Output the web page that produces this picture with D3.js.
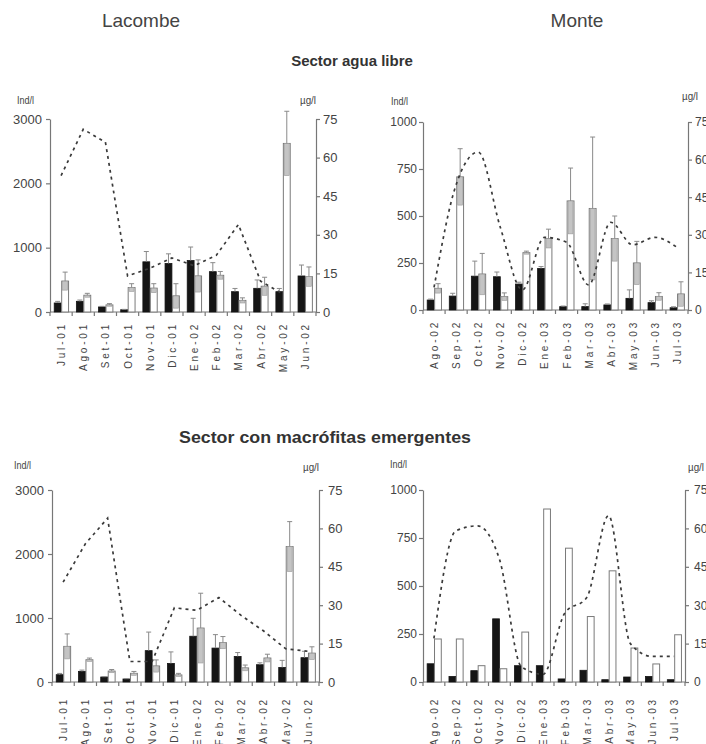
<!DOCTYPE html>
<html><head><meta charset="utf-8">
<script src="https://cdn.jsdelivr.net/npm/d3@7"></script>
<style>
body{margin:0;background:#fff;}
text{font-family:"Liberation Sans",Arial,sans-serif;}
</style></head><body>
<svg id="c" width="706" height="744"></svg>
<script>
// ---------- DATA ----------
const mesesLacombe = ["Jul-01","Ago-01","Set-01","Oct-01","Nov-01","Dic-01","Ene-02","Feb-02","Mar-02","Abr-02","May-02","Jun-02"];
const mesesMonte = ["Ago-02","Sep-02","Oct-02","Nov-02","Dic-02","Ene-03","Feb-03","Mar-03","Abr-03","May-03","Jun-03","Jul-03"];
const ticksLacombe = [0,1000,2000,3000];
const ticksMonte = [0,250,500,750,1000];
const ticksClorofila = [0,15,30,45,60,75];

// Lacombe - sector agua libre
const lacLibreNegro     = [140,166,78,36,780,754,800,627,316,368,316,560];
const lacLibreNegroErr  = [25,20,10,5,160,150,210,140,50,130,50,170];
const lacLibreBlanco    = [480,260,110,380,370,250,560,570,180,400,2620,550];
const lacLibreBlancoErr = [140,30,20,60,70,190,250,60,40,140,500,150];
const lacLibreClor      = [53,71,66,14,17,21,18,22,34,12,7,null];

// Monte - sector agua libre
const monLibreNegro     = [53,74,180,177,138,221,18,18,27,62,39,12];
const monLibreNegroErr  = [5,15,80,25,10,10,3,15,5,45,10,5];
const monLibreBlanco    = [115,708,191,71,305,380,580,540,380,250,72,85];
const monLibreBlancoErr = [25,150,110,20,8,50,175,380,120,115,20,65];
const monLibreClor      = [9,50,63,33,8,29,27,10,35,26,29,25];

// Lacombe - sector con macrófitas emergentes
const lacMacroNegro     = [114,166,78,47,490,290,715,530,400,270,228,380];
const lacMacroNegroErr  = [20,20,5,5,290,180,280,210,60,30,110,100];
const lacMacroBlanco    = [556,348,170,135,250,110,842,615,220,374,2116,450];
const lacMacroBlancoErr = [195,26,25,30,95,25,545,95,45,60,390,100];
const lacMacroClor      = [39,54,64,8,8,29,28,33,26,20,13,12];

// Monte - sector con macrófitas emergentes
const monMacroNegro     = [95,29,59,329,85,85,16,61,12,26,29,12];
const monMacroBlanco    = [224,224,85,69,260,901,697,341,579,177,94,246];
const monMacroClor      = [17,59,61,48,6,3,27,33,65,15,10,10];

// ---------- DRAWING ----------
const svg = d3.select("#c");
const TXT = "#444", AX = "#777";

function drawPanel(cfg, cats, negro, negroErr, blanco, blancoErr, clor, curve) {
  const g = svg.append("g");
  const x = d3.scaleBand().domain(cats).range([cfg.x0, cfg.x1]);
  const y = d3.scaleLinear().domain([0, cfg.max]).range([cfg.yB, cfg.yT]);
  const y2 = d3.scaleLinear().domain([0, 75]).range([cfg.yB, cfg.yT]);
  const bw = x.bandwidth() * 0.31;

  const ax1 = g.append("g").attr("transform", `translate(${cfg.x0},0)`)
    .call(d3.axisLeft(y).tickValues(cfg.ticks).tickSize(4).tickSizeOuter(0).tickPadding(cfg.padL).tickFormat(d3.format("d")));
  const ax2 = g.append("g").attr("transform", `translate(${cfg.x1},0)`)
    .call(d3.axisRight(y2).tickValues(ticksClorofila).tickSize(4).tickSizeOuter(0).tickPadding(cfg.padR));
  [ax1, ax2].forEach(a => {
    a.selectAll("path,line").attr("stroke", AX).attr("stroke-width", 1.2);
    a.selectAll("text").attr("fill", TXT).attr("font-size", cfg.fs).attr("font-family", "Liberation Sans, Arial, sans-serif");
  });
  g.append("line").attr("x1", cfg.x0).attr("x2", cfg.x1).attr("y1", cfg.yB).attr("y2", cfg.yB)
    .attr("stroke", AX).attr("stroke-width", 1.2);
  const bounds = cats.map(c => x(c)).concat([cfg.x1]);
  g.selectAll(".xt").data(bounds).join("line")
    .attr("x1", d => d).attr("x2", d => d).attr("y1", cfg.yB).attr("y2", cfg.yB + 4)
    .attr("stroke", AX).attr("stroke-width", 1.2);
  g.selectAll(".xl").data(cats).join("text")
    .attr("transform", c => `translate(${x(c) + x.bandwidth() / 2 + 4},${cfg.labTop}) rotate(-90)`)
    .attr("text-anchor", "end").attr("font-size", 10).attr("letter-spacing", 2.8)
    .attr("fill", TXT).text(c => c);

  g.append("text").attr("x", cfg.uL[0]).attr("y", cfg.uL[1]).attr("font-size", 11)
    .attr("fill", TXT).attr("textLength", 17).attr("lengthAdjust", "spacingAndGlyphs").text("Ind/l");
  g.append("text").attr("x", cfg.uR[0]).attr("y", cfg.uR[1]).attr("font-size", 11)
    .attr("fill", TXT).attr("textLength", 16).attr("lengthAdjust", "spacingAndGlyphs").text("µg/l");

  const cx = c => x(c) + x.bandwidth() / 2;
  g.selectAll(".bn").data(cats).join("rect")
    .attr("x", c => cx(c) - bw).attr("width", bw)
    .attr("y", (c, i) => y(negro[i])).attr("height", (c, i) => cfg.yB - y(negro[i]))
    .attr("fill", "#151515").attr("stroke", "#151515").attr("stroke-width", 0.8);
  g.selectAll(".bb").data(cats).join("rect")
    .attr("x", c => cx(c) + 0.6).attr("width", bw)
    .attr("y", (c, i) => y(blanco[i])).attr("height", (c, i) => cfg.yB - y(blanco[i]))
    .attr("fill", "#fff").attr("stroke", "#7a7a7a").attr("stroke-width", 1);

  const capW = 2.5;
  if (blancoErr) {
    cats.forEach((c, i) => {
      const xc = cx(c) + 0.6 + bw / 2;
      const lo = Math.max(0, blanco[i] - blancoErr[i]);
      g.append("rect").attr("x", cx(c) + 1.6).attr("width", bw - 2)
        .attr("y", y(blanco[i])).attr("height", y(lo) - y(blanco[i]))
        .attr("fill", "#c4c4c4").attr("stroke", "#9a9a9a").attr("stroke-width", 0.6);
      const hi = y(blanco[i] + blancoErr[i]);
      g.append("line").attr("x1", xc).attr("x2", xc).attr("y1", y(blanco[i])).attr("y2", hi)
        .attr("stroke", "#8a8a8a").attr("stroke-width", 1);
      g.append("line").attr("x1", xc - capW).attr("x2", xc + capW).attr("y1", hi).attr("y2", hi)
        .attr("stroke", "#8a8a8a").attr("stroke-width", 1);
    });
  }
  if (negroErr) {
    cats.forEach((c, i) => {
      const xc = cx(c) - bw / 2;
      const hi = y(negro[i] + negroErr[i]);
      g.append("line").attr("x1", xc).attr("x2", xc).attr("y1", y(negro[i])).attr("y2", hi)
        .attr("stroke", "#8a8a8a").attr("stroke-width", 1);
      g.append("line").attr("x1", xc - capW).attr("x2", xc + capW).attr("y1", hi).attr("y2", hi)
        .attr("stroke", "#8a8a8a").attr("stroke-width", 1);
    });
  }

  const line = d3.line().defined(d => d[1] != null)
    .x(d => cx(d[0])).y(d => y2(d[1])).curve(curve);
  g.append("path").datum(cats.map((c, i) => [c, clor[i]]))
    .attr("d", line).attr("fill", "none").attr("stroke", "#3a3a3a")
    .attr("stroke-width", 1.7).attr("stroke-dasharray", "3,4");
}

svg.append("text").attr("x", 141).attr("y", 27).attr("text-anchor", "middle")
  .attr("font-size", 19).attr("fill", TXT).text("Lacombe");
svg.append("text").attr("x", 577).attr("y", 27).attr("text-anchor", "middle")
  .attr("font-size", 19).attr("fill", TXT).text("Monte");
svg.append("text").attr("x", 352).attr("y", 66).attr("text-anchor", "middle")
  .attr("font-size", 15).attr("font-weight", "bold").attr("fill", "#333").text("Sector agua libre");
svg.append("text").attr("x", 325).attr("y", 443).attr("text-anchor", "middle")
  .attr("font-size", 16).attr("font-weight", "bold").attr("fill", "#333")
  .attr("textLength", 292).attr("lengthAdjust", "spacingAndGlyphs").text("Sector con macrófitas emergentes");

drawPanel({x0: 50, x1: 316, yT: 119, yB: 312, max: 3000, ticks: ticksLacombe, fs: 13, padL: 4, padR: 3, labTop: 322, uL: [17, 104], uR: [300, 104]},
  mesesLacombe, lacLibreNegro, lacLibreNegroErr, lacLibreBlanco, lacLibreBlancoErr, lacLibreClor, d3.curveLinear);
drawPanel({x0: 423, x1: 688, yT: 122, yB: 310, max: 1000, ticks: ticksMonte, fs: 12, padL: 2, padR: 3, labTop: 320, uL: [391, 105], uR: [682, 100]},
  mesesMonte, monLibreNegro, monLibreNegroErr, monLibreBlanco, monLibreBlancoErr, monLibreClor, d3.curveMonotoneX);
drawPanel({x0: 52, x1: 319, yT: 490, yB: 682, max: 3000, ticks: ticksLacombe, fs: 13, padL: 4, padR: 5, labTop: 697, uL: [14, 469], uR: [303, 471]},
  mesesLacombe, lacMacroNegro, lacMacroNegroErr, lacMacroBlanco, lacMacroBlancoErr, lacMacroClor, d3.curveLinear);
drawPanel({x0: 423, x1: 685, yT: 490, yB: 682, max: 1000, ticks: ticksMonte, fs: 12, padL: 2, padR: 5, labTop: 697, uL: [390, 468], uR: [688, 471]},
  mesesMonte, monMacroNegro, null, monMacroBlanco, null, monMacroClor, d3.curveMonotoneX);
</script>
</body></html>
